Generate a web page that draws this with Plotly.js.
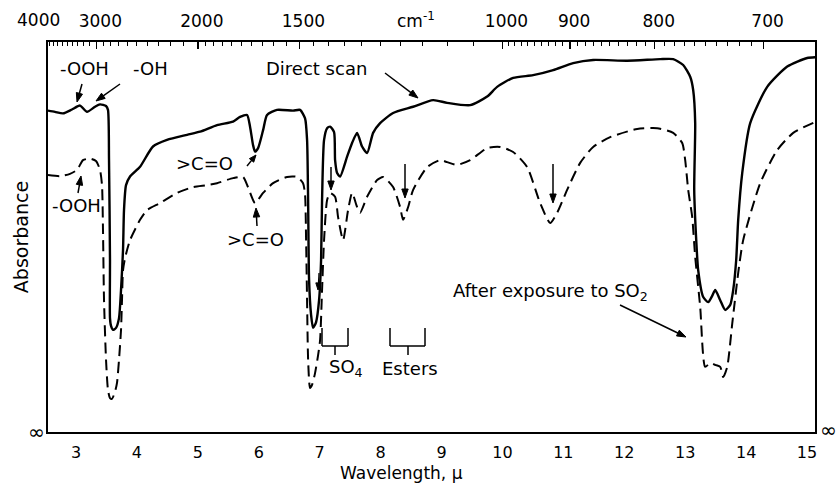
<!DOCTYPE html>
<html>
<head>
<meta charset="utf-8">
<script src="https://cdn.plot.ly/plotly-3.0.1.min.js"></script>
<style>html,body{margin:0;padding:0;background:#fff;}#chart{width:837px;height:484px;}</style>
</head>
<body>
<div id="chart"></div>
<script>
// ---- data ----
// vertical value: 0 = bottom of frame (absorbance ∞), 100 = top of frame
const directWavelength = [2.54,2.655,2.787,2.934,3.066,3.181,3.312,3.394,3.493,3.525,3.542,3.558,3.558,3.575,3.608,3.657,3.706,3.739,3.772,3.788,3.821,3.887,4.051,4.264,4.494,4.823,5.036,5.315,5.578,5.693,5.808,5.857,5.906,5.939,5.989,6.071,6.136,6.300,6.563,6.678,6.760,6.793,6.810,6.826,6.859,6.892,6.941,6.990,7.023,7.039,7.072,7.122,7.171,7.236,7.253,7.286,7.335,7.450,7.532,7.614,7.696,7.778,7.877,7.992,8.205,8.534,8.862,9.092,9.470,9.749,9.913,10.176,10.504,10.833,11.161,11.489,12.048,12.589,12.803,12.967,13.082,13.131,13.164,13.148,13.181,13.213,13.296,13.378,13.443,13.493,13.575,13.657,13.739,13.788,13.837,13.870,13.936,14.067,14.346,14.675,15.003,15.135];
const directLevel = [82.4,82.1,81.7,82.7,83.7,82.1,83.4,84.0,83.6,82.6,69.7,44.1,29.2,27.2,26.2,26.7,29.2,36.4,46.7,56.9,63.3,65.5,68.0,73.2,74.9,76.2,77.0,78.7,79.6,80.8,81.3,78.3,73.6,71.9,72.8,77.4,81.3,82.6,82.4,82.6,80.4,74.9,59.5,39.0,30.0,26.7,28.2,33.8,44.1,59.5,74.9,77.9,78.3,76.9,69.7,66.4,65.5,70.6,74.1,76.7,73.2,71.5,76.7,79.2,81.8,83.4,85.1,84.4,83.8,86.0,88.5,90.8,91.5,92.8,94.6,95.4,95.2,95.6,95.6,94.1,91.1,87.7,79.2,62.1,49.2,41.5,34.6,33.3,34.9,36.4,33.8,31.3,32.6,36.4,44.1,54.4,66.4,79.2,88.5,93.7,95.9,96.1];

const so2Wavelength = [2.540,2.737,2.901,3.016,3.115,3.230,3.328,3.394,3.427,3.443,3.460,3.493,3.525,3.558,3.591,3.640,3.673,3.706,3.739,3.755,3.772,3.805,3.887,4.051,4.166,4.379,4.658,4.921,5.151,5.315,5.578,5.742,5.824,5.939,6.071,6.235,6.465,6.629,6.727,6.760,6.777,6.793,6.810,6.842,6.875,6.924,6.974,7.007,7.039,7.072,7.122,7.171,7.253,7.302,7.384,7.466,7.532,7.614,7.663,7.778,7.943,8.041,8.205,8.320,8.369,8.452,8.534,8.764,8.977,9.092,9.256,9.470,9.749,9.962,10.176,10.406,10.619,10.783,10.898,11.062,11.276,11.489,11.768,12.212,12.540,12.803,12.951,13.000,13.049,13.115,13.164,13.246,13.328,13.411,13.493,13.575,13.624,13.690,13.773,13.870,13.952,14.232,14.511,14.773,15.135];
const so2Level = [65.9,65.6,66.2,67.2,69.7,70.1,69.5,67.2,63.3,51.8,33.8,18.5,10.8,8.7,8.5,10.3,12.6,18.5,26.2,33.8,41.5,44.6,49.2,54.4,56.9,58.7,61.3,62.8,63.3,63.8,65.1,65.4,62.8,58.7,61.3,63.8,65.4,65.4,63.8,60.8,49.2,33.8,18.5,11.3,12.1,15.1,19.7,23.6,36.4,49.2,59.5,61.3,60.3,55.1,49.2,56.9,61.3,57.7,56.2,60.3,64.6,65.4,62.8,57.7,54.4,57.7,62.1,67.9,69.7,69.2,68.5,69.7,72.8,73.1,71.8,67.9,58.7,53.6,56.2,62.1,69.0,73.1,75.6,77.7,77.9,76.7,74.1,69.7,62.1,55.1,44.9,32.1,16.7,17.7,17.2,16.7,14.1,16.7,27.9,40.8,49.2,63.8,72.3,76.7,79.5];

const wavelengthTicks = [3,4,5,6,7,8,9,10,11,12,13,14,15];
const wavenumberTicks = [4000,3000,2000,1500,1000,900,800,700];
const seriesNames = ['Direct scan','After exposure to SO<sub>2</sub>'];

// ---- layout helpers (pixel -> data for annotation placement) ----
const FONT = 'DejaVu Sans, Liberation Sans, sans-serif';
const X = px => 3 + (px - 76) / 60.92;
const Y = py => (432 - py) / 3.9;

const minorWn = [];
for (let w = 3900; w > 2000; w -= 100) if (w !== 3000) minorWn.push(w);
for (let w = 1950; w > 1000; w -= 50) if (w !== 1500) minorWn.push(w);
for (let w = 990; w > 690; w -= 10) if (w % 100 !== 0) minorWn.push(w);

const traces = [
  {x: directWavelength, y: directLevel, name: seriesNames[0], type: 'scatter', mode: 'lines',
   line: {color: '#000', width: 2.4, shape: 'spline', smoothing: 0.6}, xaxis: 'x', yaxis: 'y'},
  {x: so2Wavelength, y: so2Level, name: seriesNames[1], type: 'scatter', mode: 'lines',
   line: {color: '#000', width: 2, dash: '11px,6px', shape: 'spline', smoothing: 0.6}, xaxis: 'x', yaxis: 'y'}
];

function txt(text, px, py, size) {
  return {text: text, x: X(px), y: Y(py), xref: 'x', yref: 'y', showarrow: false,
          font: {family: FONT, size: size || 18, color: '#000'}, xanchor: 'center', yanchor: 'middle'};
}

function seg(px0, py0, px1, py1, w) {
  return {type: 'line', xref: 'x', yref: 'y', x0: X(px0), y0: Y(py0), x1: X(px1), y1: Y(py1),
          line: {color: '#000', width: w || 1.5}};
}
// arrow as shapes: shaft + filled head (tail px -> head px)
function arrowShapes(tx, ty, hx, hy, w, hl, hw) {
  hl = hl || 9; hw = hw || 3.2;
  const dx = hx - tx, dy = hy - ty, L = Math.hypot(dx, dy);
  const ux = dx / L, uy = dy / L;
  const bx = hx - ux * hl, by = hy - uy * hl;
  const p1 = [bx - uy * hw, by + ux * hw], p2 = [bx + uy * hw, by - ux * hw];
  return [
    seg(tx, ty, bx + ux * 1, by + uy * 1, w || 1.5),
    {type: 'path', xref: 'x', yref: 'y', fillcolor: '#000', line: {color: '#000', width: 1},
     path: 'M' + X(hx) + ',' + Y(hy) + 'L' + X(p1[0]) + ',' + Y(p1[1]) + 'L' + X(p2[0]) + ',' + Y(p2[1]) + 'Z'}
  ];
}

const annotations = [
  txt('-OOH', 84, 68),
  txt('-OH', 150, 68),
  txt('-OOH', 76, 205),
  txt('>C=O', 204, 163),
  txt('>C=O', 255, 239),
  txt(seriesNames[0], 316, 68),
  txt('SO<sub>4</sub>', 346, 368), txt('Esters', 410, 368),
  txt(seriesNames[1], 550, 292),
  {text: '∞', xref: 'paper', yref: 'paper', x: -12/767, y: 0, showarrow: false, xanchor: 'center', yanchor: 'middle',
   font: {family: FONT, size: 20, color: '#000'}},
  {text: '∞', xref: 'paper', yref: 'paper', x: 1 + 13/767, y: 0.005, showarrow: false, xanchor: 'center', yanchor: 'middle',
   font: {family: FONT, size: 20, color: '#000'}},
  {text: String(wavenumberTicks[0]), xref: 'paper', yref: 'paper', x: -10/767, y: 1 + 22/390, showarrow: false,
   xanchor: 'center', yanchor: 'middle', font: {family: FONT, size: 17, color: '#000'}},
  {text: 'cm<sup>-1</sup>', xref: 'paper', yref: 'paper', x: (416-48)/767, y: 1 + 22/390, showarrow: false,
   xanchor: 'center', yanchor: 'middle', font: {family: FONT, size: 17, color: '#000'}},
  {text: 'Wavelength, μ', xref: 'paper', yref: 'paper', x: (401-48)/767, y: -(473-432)/390, showarrow: false,
   xanchor: 'center', yanchor: 'middle', font: {family: FONT, size: 17, color: '#000'}}
];

const shapes = [].concat(
  // SO4 and Esters brackets
  seg(322, 328, 322, 346), seg(322, 346, 348, 346), seg(348, 346, 348, 328), seg(335, 346, 335, 355),
  seg(390, 328, 390, 346), seg(390, 346, 425, 346), seg(425, 346, 425, 328), seg(408, 346, 408, 355),
  // arrows
  arrowShapes(82, 84, 77, 102),
  arrowShapes(120, 84, 96, 101),
  arrowShapes(78, 193, 81, 176),
  arrowShapes(247, 166, 256, 155, 1.5, 7, 2.8),
  arrowShapes(257, 226, 256, 208),
  arrowShapes(385, 73, 418, 98),
  arrowShapes(331, 167, 331, 190),
  arrowShapes(405, 164, 405, 198),
  arrowShapes(553, 164, 553, 203),
  arrowShapes(319, 273, 318, 290, 1.2, 7, 2.6),
  arrowShapes(620, 305, 686, 337)
);

const xRange = [X(48), X(815)];
const layout = {
  width: 837, height: 484,
  margin: {l: 48, r: 22, t: 42, b: 52, pad: 0},
  paper_bgcolor: '#fff', plot_bgcolor: '#fff',
  showlegend: false,
  font: {family: FONT, color: '#000'},
  xaxis: {range: xRange, tickmode: 'array', tickvals: wavelengthTicks, ticktext: wavelengthTicks.map(String),
          ticks: '', showline: true, linecolor: '#000', linewidth: 2, showgrid: false, zeroline: false,
          tickfont: {family: FONT, size: 16, color: '#000'}, ticklabelstandoff: 5},
  xaxis2: {range: xRange, overlaying: 'x', side: 'top', anchor: 'y', tickmode: 'array',
           tickvals: wavenumberTicks.slice(1).map(w => 1e4 / w), ticktext: wavenumberTicks.slice(1).map(String),
           ticks: 'inside', ticklen: 7, tickwidth: 1.5, tickcolor: '#000',
           minor: {tickmode: 'array', tickvals: minorWn.map(w => 1e4 / w), ticks: 'inside', ticklen: 4, tickwidth: 1, tickcolor: '#000'},
           showline: true, linecolor: '#000', linewidth: 2, showgrid: false, zeroline: false,
           tickfont: {family: FONT, size: 17, color: '#000'}, ticklabelstandoff: 6, ticklabelshift: 4},
  yaxis: {range: [0, 100], showticklabels: false, ticks: '', showline: true, mirror: true,
          linecolor: '#000', linewidth: 2, showgrid: false, zeroline: false,
          title: {text: 'Absorbance', font: {family: FONT, size: 19, color: '#000'}, standoff: 12}},
  annotations: annotations,
  shapes: shapes
};

// dummy trace to activate the top wavenumber axis
traces.push({x: [xRange[0]], y: [null], xaxis: 'x2', yaxis: 'y', type: 'scatter', mode: 'lines', hoverinfo: 'skip', showlegend: false});

Plotly.newPlot('chart', traces, layout, {displayModeBar: false, staticPlot: true});
</script>
</body>
</html>
